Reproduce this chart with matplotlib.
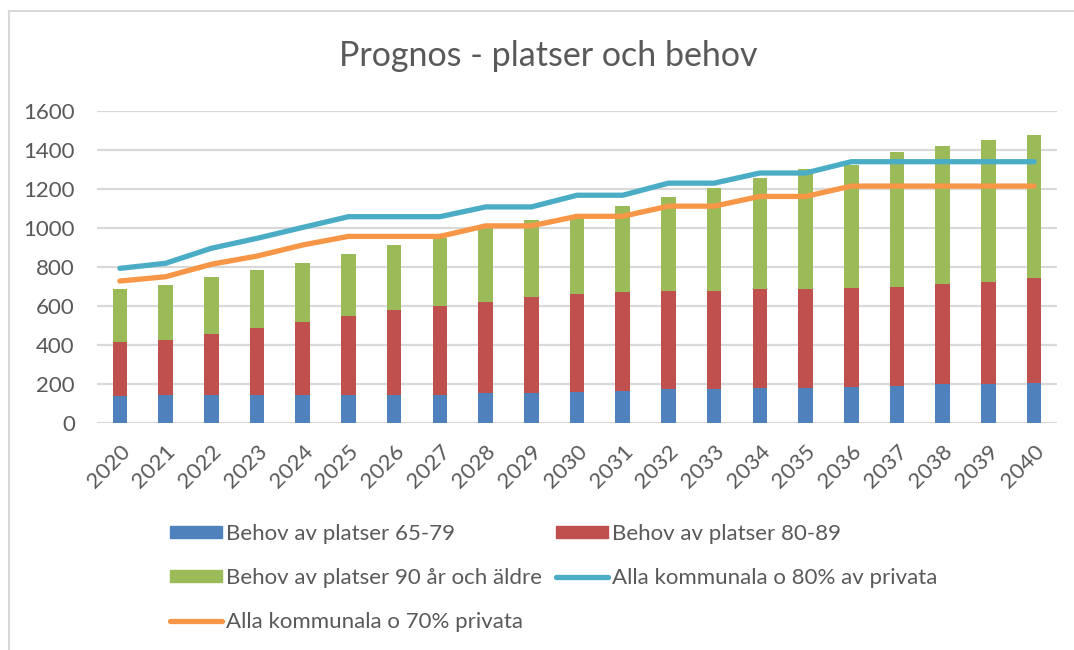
import numpy as np
import matplotlib.pyplot as plt
from matplotlib.lines import Line2D
from matplotlib.patches import Patch
import matplotlib.transforms as mtransforms

plt.rcParams['font.family'] = ['Lato', 'DejaVu Sans']

years = [str(y) for y in range(2020, 2041)]
behov_65_79 = [138, 144, 144, 144, 144, 144, 144, 144, 152, 152, 159, 166, 173, 173, 179, 179, 185, 192, 198, 198, 205]
behov_80_89 = [276, 283, 311, 343, 376, 403, 435, 456, 467, 494, 501, 506, 505, 505, 507, 507, 506, 505, 513, 527, 539]
behov_90 = [272, 282, 295, 296, 302, 321, 335, 350, 379, 395, 395, 439, 479, 525, 570, 615, 632, 691, 710, 728, 731]
komm_80 = [793, 819, 896, 947, 1003, 1058, 1058, 1058, 1108, 1108, 1168, 1168, 1230, 1230, 1282, 1282, 1340, 1340, 1340, 1340, 1340]
komm_70 = [728, 750, 814, 856, 913, 957, 957, 957, 1011, 1011, 1060, 1060, 1112, 1112, 1162, 1162, 1215, 1215, 1215, 1215, 1215]

c_blue = '#4F81BD'
c_red = '#C0504D'
c_green = '#9BBB59'
c_cyan = '#4BACC6'
c_orange = '#F79646'
txt = '#595959'
grid = '#D9D9D9'

fig = plt.figure(figsize=(10.74, 6.5), dpi=100)
ax = fig.add_axes([97 / 1074, 1 - 423 / 650, 960 / 1074, 312 / 650])

x = np.arange(len(years))
b1 = np.array(behov_65_79)
b2 = np.array(behov_80_89)
b3 = np.array(behov_90)
w = 0.32
ax.bar(x, b1, w, color=c_blue, zorder=2)
ax.bar(x, b2, w, bottom=b1, color=c_red, zorder=2)
ax.bar(x, b3, w, bottom=b1 + b2, color=c_green, zorder=2)
ax.plot(x, komm_80, color=c_cyan, lw=3.8, solid_capstyle='round', solid_joinstyle='round', zorder=3)
ax.plot(x, komm_70, color=c_orange, lw=3.8, solid_capstyle='round', solid_joinstyle='round', zorder=3)

ax.set_xlim(-0.5, len(years) - 0.5)
ax.set_ylim(0, 1600)
ax.set_yticks(range(0, 1601, 200))
ax.yaxis.grid(True, color=grid, lw=1.6, zorder=0)
ax.set_axisbelow(True)
for s in ax.spines.values():
    s.set_visible(False)
ax.tick_params(axis='both', length=0, labelcolor=txt, labelsize=16)
ax.tick_params(axis='y', pad=16)
ax.set_xticks(x)
ax.set_xticklabels(years, rotation=45, ha='right', va='center', rotation_mode='anchor')
off = mtransforms.ScaledTranslation(0.07, -0.20, fig.dpi_scale_trans)
for lab in ax.get_xticklabels():
    lab.set_transform(lab.get_transform() + off)

fig.text(548 / 1074, 1 - 56 / 650, 'Prognos - platser och behov', ha='center', va='center',
         fontsize=24.5, color=txt)

# chart border (cut off at right and bottom)
fig.add_artist(Line2D([9 / 1074, 9 / 1074], [0, 1 - 11 / 650], transform=fig.transFigure, color=grid, lw=1.5))
fig.add_artist(Line2D([9 / 1074, 1], [1 - 11 / 650, 1 - 11 / 650], transform=fig.transFigure, color=grid, lw=1.5))

h65 = Patch(color=c_blue)
h80 = Patch(color=c_red)
h90 = Patch(color=c_green)
hk80 = Line2D([], [], color=c_cyan, lw=3.8, solid_capstyle='round')
hk70 = Line2D([], [], color=c_orange, lw=3.8, solid_capstyle='round')
handles = [h65, h90, hk70, h80, hk80]
labels = ['Behov av platser 65-79', 'Behov av platser 90 år och äldre', 'Alla kommunala o 70% privata',
          'Behov av platser 80-89', 'Alla kommunala o 80% av privata']
leg = fig.legend(handles, labels, ncol=2, loc='upper left', bbox_to_anchor=(170 / 1074, 1 - 524 / 650),
                 frameon=False, fontsize=16, handlelength=2.35, handleheight=0.45, handletextpad=0.18,
                 columnspacing=0.6, labelspacing=1.08, borderpad=0, borderaxespad=0)
for t in leg.get_texts():
    t.set_color(txt)

fig.savefig('out.png', dpi=100)
